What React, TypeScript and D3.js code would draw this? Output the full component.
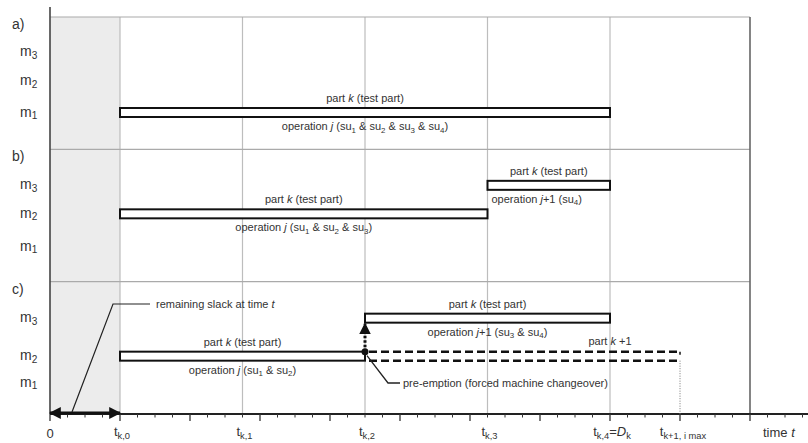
import * as d3 from "d3";

const width = 808;
const height = 443;

// panels and machine rows
const panels = ["a)", "b)", "c)"];
const machines = ["m3", "m2", "m1"];
const machineLabels = ["m_{3}", "m_{2}", "m_{1}"];

// time axis (event points in time units)
const eventTimes = [1, 2.75, 4.5, 6.25, 8];
const eventLabels = ["t_{k,0}", "t_{k,1}", "t_{k,2}", "t_{k,3}", "t_{k,4}=*D*_{k}"];
const horizon = 10;
const nextPartTime = 9;
const nextPartLabel = "t_{k+1, i max}";

// operations of the test part, per panel
const opPanels = ["a)", "b)", "b)", "c)", "c)"];
const opMachines = ["m1", "m2", "m3", "m2", "m3"];
const opStarts = [1, 1, 6.25, 1, 4.5];
const opEnds = [8, 6.25, 8, 4.5, 8];
const opAbove = ["part *k* (test part)", "part *k* (test part)", "part *k* (test part)", "part *k* (test part)", "part *k* (test part)"];
const opBelow = [
  "operation *j* (su_{1} & su_{2} & su_{3} & su_{4})",
  "operation *j* (su_{1} & su_{2} & su_{3})",
  "operation *j*+1 (su_{4})",
  "operation *j* (su_{1} & su_{2})",
  "operation *j*+1 (su_{3} & su_{4})",
];

// next part (k+1) in panel c
const nextPart = { panel: "c)", machine: "m2", start: 4.5, end: 9, label: "part *k* +1" };

// layout
const rowOffsets: Record<string, number[]> = {
  "a)": [35, 64, 95.5],
  "b)": [36, 64.5, 97.5],
  "c)": [36.5, 74.5, 101],
};
const barH = 9;
const textColor = "#333";
const font = "'Liberation Sans', Arial, sans-serif";

function Rich({ s, sub = 3 }: { s: string; sub?: number }) {
  const parts = s.split(/(\*[^*]+\*|_\{[^}]+\})/).filter(Boolean);
  let shifted = false;
  return (
    <>
      {parts.map((p, i) => {
        if (p.startsWith("_{")) {
          const dy = shifted ? 0 : sub;
          shifted = true;
          return (
            <tspan key={i} dy={dy} fontSize="0.72em">
              {p.slice(2, -1)}
            </tspan>
          );
        }
        const dy = shifted ? -sub : 0;
        shifted = false;
        if (p.startsWith("*"))
          return (
            <tspan key={i} dy={dy} fontStyle="italic">
              {p.slice(1, -1)}
            </tspan>
          );
        return (
          <tspan key={i} dy={dy}>
            {p}
          </tspan>
        );
      })}
    </>
  );
}

export default function App() {
  const x = d3.scaleLinear().domain([0, horizon]).range([50, 750]);
  const panelY = d3.scaleBand().domain(panels).range([17, 414]);
  const top = panelY.range()[0];
  const bottom = panelY.range()[1];
  const rowY = (panel: string, m: string) =>
    (panelY(panel) ?? 0) + d3.scaleOrdinal<string, number>().domain(machines).range(rowOffsets[panel])(m);

  const minorTicks = d3.range(0, 10.8, 0.25).filter((t) => t % 1 !== 0);
  const majorTicks = d3.range(0, 11, 1);

  const ops = opPanels.map((p, i) => ({
    panel: p,
    machine: opMachines[i],
    start: opStarts[i],
    end: opEnds[i],
    above: opAbove[i],
    below: opBelow[i],
  }));

  const preX = x(eventTimes[2]);
  const preY = rowY("c)", "m2") - barH / 2;
  const m3Bottom = rowY("c)", "m3") + barH / 2;
  const npY = rowY(nextPart.panel, nextPart.machine);

  return (
    <svg
      width={width}
      height={height}
      style={{ position: "absolute", left: 0, top: 0, background: "#fff" }}
      fontFamily={font}
    >
      <defs>
        <marker id="ah" viewBox="0 0 10 10" refX="9" refY="5" markerWidth="4" markerHeight="4" orient="auto-start-reverse">
          <path d="M0,0 L10,5 L0,10 z" fill="#111" />
        </marker>
      </defs>

      {/* slack shading */}
      <rect x={x(0)} y={top} width={x(eventTimes[0]) - x(0)} height={bottom - top} fill="#ececec" />

      {/* grid */}
      {eventTimes.map((t) => (
        <line key={t} x1={x(t)} x2={x(t)} y1={top} y2={bottom} stroke="#bdbdbd" strokeWidth={1.2} />
      ))}
      {panels.map((p) => (
        <line key={p} x1={x(0)} x2={x(horizon)} y1={panelY(p)} y2={panelY(p)} stroke="#aaa" strokeWidth={1.2} />
      ))}
      <line x1={x(horizon)} x2={x(horizon)} y1={top} y2={bottom} stroke="#666" strokeWidth={1.6} />

      {/* axes */}
      <line x1={x(0)} x2={x(0)} y1={7} y2={bottom} stroke="#444" strokeWidth={1.6} />
      <line x1={x(0)} x2={width} y1={bottom} y2={bottom} stroke="#222" strokeWidth={2} />
      {minorTicks.map((t) => (
        <line key={t} x1={x(t)} x2={x(t)} y1={bottom} y2={bottom + 3.5} stroke="#333" strokeWidth={1} />
      ))}
      {majorTicks.map((t) => (
        <line key={t} x1={x(t)} x2={x(t)} y1={bottom} y2={bottom + 7} stroke="#333" strokeWidth={1.3} />
      ))}

      {/* axis labels */}
      <g fontSize={13} fill={textColor}>
        <text x={x(0)} y={438} textAnchor="middle">0</text>
        {eventTimes.map((t, i) => (
          <text key={t} x={x(t) + 2} y={436} textAnchor="middle">
            <Rich s={eventLabels[i]} sub={2.5} />
          </text>
        ))}
        <text x={x(nextPartTime) + 3} y={436} textAnchor="middle">
          <Rich s={nextPartLabel} sub={2.5} />
        </text>
        <text x={763} y={437}>
          <Rich s="time *t*" />
        </text>
      </g>

      {/* panel and machine labels */}
      <g fill={textColor}>
        {panels.map((p) => (
          <g key={p}>
            <text x={12} y={(panelY(p) ?? 0) + 12} fontSize={14}>{p}</text>
            {machines.map((m, i) => (
              <text key={m} x={20} y={rowY(p, m) + 4} fontSize={14}>
                <Rich s={machineLabels[i]} sub={2.5} />
              </text>
            ))}
          </g>
        ))}
      </g>

      {/* operations */}
      <g fontSize={11} fill={textColor}>
        {ops.map((o, i) => {
          const cy = rowY(o.panel, o.machine);
          const x0 = x(o.start);
          const x1 = x(o.end);
          const startAlign = o.below.includes("(su_{4})");
          return (
            <g key={i}>
              <rect x={x0} y={cy - barH / 2} width={x1 - x0} height={barH} fill="#fff" stroke="#111" strokeWidth={2} />
              <text x={(x0 + x1) / 2} y={cy - barH / 2 - 6} textAnchor="middle">
                <Rich s={o.above} sub={2.5} />
              </text>
              <text
                x={startAlign ? x0 + 4 : (x0 + x1) / 2}
                y={cy + barH / 2 + 13}
                textAnchor={startAlign ? "start" : "middle"}
              >
                <Rich s={o.below} sub={2.5} />
              </text>
            </g>
          );
        })}
      </g>

      {/* next part k+1 (dashed) */}
      <g stroke="#111" strokeWidth={2.5} fill="none">
        <line x1={x(nextPart.start) + 4} x2={x(nextPart.end)} y1={npY - barH / 2} y2={npY - barH / 2} strokeDasharray="8,4" />
        <line x1={x(nextPart.start) + 4} x2={x(nextPart.end)} y1={npY + barH / 2} y2={npY + barH / 2} strokeDasharray="8,4" />
        <line x1={x(nextPart.end)} x2={x(nextPart.end)} y1={npY - barH / 2} y2={npY - barH / 2 + 3} strokeWidth={1.5} />
      </g>
      <line x1={x(nextPart.end)} x2={x(nextPart.end)} y1={npY + barH / 2} y2={bottom} stroke="#777" strokeWidth={1} strokeDasharray="1,1.5" />
      <text x={x(eventTimes[4])} y={npY - barH / 2 - 7} textAnchor="middle" fontSize={11} fill={textColor}>
        <Rich s={nextPart.label} />
      </text>

      {/* pre-emption */}
      <line x1={preX} x2={preX} y1={preY} y2={m3Bottom + 1} stroke="#111" strokeWidth={3} strokeDasharray="2.5,2" markerEnd="url(#ah)" />
      <circle cx={preX} cy={preY} r={3.5} fill="#111" />
      <polyline points={`${preX + 2},${preY + 4} ${preX + 23},${383} ${preX + 35},${383}`} fill="none" stroke="#222" strokeWidth={1.3} />
      <text x={preX + 38} y={387} fontSize={11} fill={textColor}>
        pre-emption (forced machine changeover)
      </text>

      {/* remaining slack */}
      <line x1={x(0)} x2={x(eventTimes[0])} y1={bottom - 1} y2={bottom - 1} stroke="#111" strokeWidth={3} markerStart="url(#ah)" markerEnd="url(#ah)" />
      <polyline points={`72,${bottom - 2} 113,304 150,304`} fill="none" stroke="#222" strokeWidth={1.2} />
      <text x={156} y={308} fontSize={11} fill={textColor}>
        <Rich s="remaining slack at time *t*" />
      </text>
    </svg>
  );
}
